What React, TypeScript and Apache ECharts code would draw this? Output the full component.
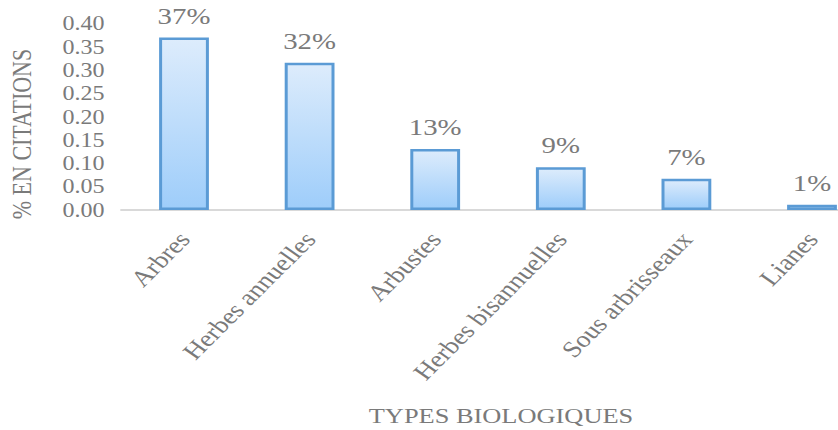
import React, { useEffect, useRef } from "react";
import * as echarts from "echarts";

// Life-form categories and their share of citations
const categories = [
  "Arbres",
  "Herbes annuelles",
  "Arbustes",
  "Herbes bisannuelles",
  "Sous arbrisseaux",
  "Lianes",
];
const citationShare = [0.37, 0.316, 0.131, 0.092, 0.067, 0.011];

const yAxisTitle = "% EN CITATIONS";
const xAxisTitle = "TYPES BIOLOGIQUES";

// The chart is laid out on a narrower canvas and widened horizontally with CSS;
// the canvas runs past the right edge so the last category keeps full width.
const STRETCH_X = 1.2;
const PAGE_W = 838;
const PAGE_H = 430;
const CANVAS_W = 740;

const FONT = "'Liberation Serif', 'Times New Roman', serif";
const TEXT = "#7a7a7a";

export default function App() {
  const ref = useRef<HTMLDivElement>(null);

  useEffect(() => {
    if (!ref.current) return;
    const chart = echarts.init(ref.current, undefined, { renderer: "svg" });
    chart.setOption({
      animation: false,
      backgroundColor: "#ffffff",
      grid: { left: 101, top: 23.6, width: 628, height: 186.4 },
      xAxis: {
        type: "category",
        data: categories,
        axisTick: { show: false },
        axisLine: { lineStyle: { color: "#d9d9d9", width: 2 } },
        axisLabel: {
          interval: 0,
          rotate: 50,
          margin: 25,
          fontSize: 23,
          fontFamily: FONT,
          color: TEXT,
        },
      },
      yAxis: {
        type: "value",
        min: 0,
        max: 0.4,
        interval: 0.05,
        splitLine: { show: false },
        axisLine: { show: false },
        axisTick: { show: false },
        axisLabel: {
          margin: 14,
          fontSize: 20,
          fontFamily: FONT,
          color: TEXT,
          formatter: (v: number) => v.toFixed(2),
        },
      },
      series: [
        {
          type: "bar",
          data: citationShare,
          barWidth: 41.5,
          itemStyle: {
            color: new echarts.graphic.LinearGradient(0, 0, 0, 1, [
              { offset: 0, color: "#ddecfc" },
              { offset: 1, color: "#9ecdfa" },
            ]),
            borderColor: "#5b9bd5",
            borderWidth: 2.5,
          },
          label: {
            show: true,
            position: "top",
            distance: 10,
            fontSize: 24,
            fontFamily: FONT,
            color: TEXT,
            formatter: (p: any) => Math.round(p.value * 100) + "%",
          },
        },
      ],
      graphic: [
        {
          type: "text",
          x: 18.3,
          y: 134,
          rotation: Math.PI / 2,
          style: {
            text: yAxisTitle,
            fontSize: 22,
            fontFamily: FONT,
            fill: TEXT,
            textAlign: "center",
            textVerticalAlign: "middle",
          },
        },
        {
          type: "text",
          x: 417.5,
          y: 415,
          style: {
            text: xAxisTitle,
            fontSize: 22,
            fontFamily: FONT,
            fill: TEXT,
            textAlign: "center",
            textVerticalAlign: "middle",
          },
        },
      ],
    });
    return () => chart.dispose();
  }, []);

  return (
    <div
      style={{
        position: "fixed",
        left: 0,
        top: 0,
        width: PAGE_W,
        height: PAGE_H,
        overflow: "hidden",
        background: "#ffffff",
      }}
    >
      <div
        ref={ref}
        style={{
          width: CANVAS_W,
          height: PAGE_H,
          transform: `scaleX(${STRETCH_X})`,
          transformOrigin: "0 0",
        }}
      />
    </div>
  );
}
